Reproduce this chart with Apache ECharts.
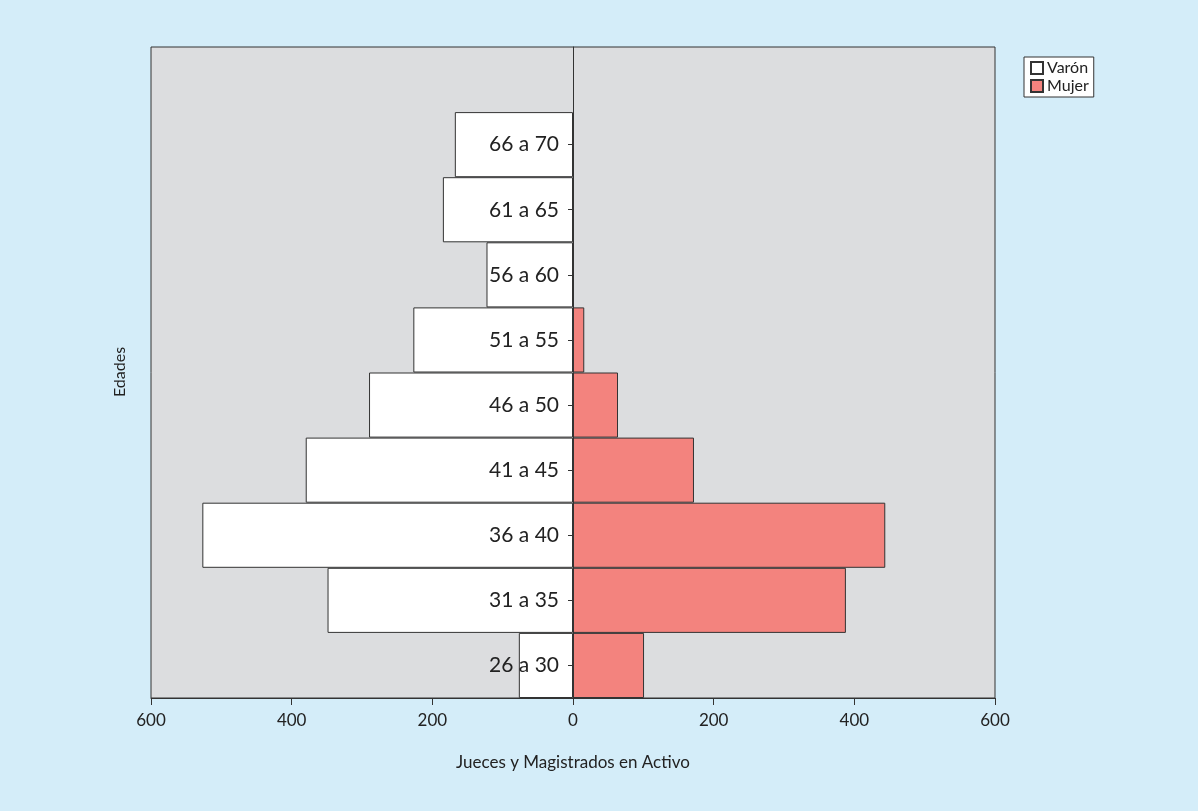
<!DOCTYPE html>
<html>
<head>
<meta charset="utf-8">
<script src="https://cdn.jsdelivr.net/npm/echarts@6/dist/echarts.min.js"></script>
<style>
html,body{margin:0;padding:0;background:#d4edf9;}
#chart{width:1198px;height:811px;}
</style>
</head>
<body>
<div id="chart"></div>
<script>
const categories = ['26 a 30','31 a 35','36 a 40','41 a 45','46 a 50','51 a 55','56 a 60','61 a 65','66 a 70',''];
const varon = [77, 349, 527, 380, 290, 227, 123, 185, 168, null];
const mujer = [101, 388, 444, 172, 64, 16, null, null, null, null];
const xTicks = [-600, -400, -200, 0, 200, 400, 600];

const FONT = 'Lato';
const GRID_LEFT = 151;
const chart = echarts.init(document.getElementById('chart'));
chart.setOption({
  backgroundColor: '#d4edf9',
  textStyle: {fontFamily: FONT},
  animation: false,
  legend: {
    orient: 'vertical',
    left: 1024, top: 57,
    backgroundColor: '#ffffff',
    borderColor: '#333',
    borderWidth: 1,
    padding: [3, 5, 3, 6],
    itemWidth: 12, itemHeight: 12, itemGap: 2,
    icon: 'rect',
    textStyle: {fontFamily: FONT, fontSize: 16, color: '#222', padding: [0,0,0,-1]},
    data: ['Varón', 'Mujer']
  },
  grid: {
    left: GRID_LEFT, right: 203, top: 47, bottom: 113,
    show: true, backgroundColor: '#dcdddf', borderColor: '#333', borderWidth: 1
  },
  xAxis: {
    type: 'value',
    min: xTicks[0], max: xTicks[xTicks.length - 1], interval: 200,
    splitLine: {show: false},
    axisLine: {show: true, lineStyle: {color: '#333'}},
    axisTick: {show: true, length: 7, lineStyle: {color: '#333'}},
    axisLabel: {fontFamily: FONT, fontSize: 17, color: '#222', margin: 14,
      formatter: v => String(Math.abs(v))},
    name: 'Jueces y Magistrados en Activo',
    nameLocation: 'middle', nameGap: 56,
    nameTextStyle: {fontFamily: FONT, fontSize: 17, color: '#222'}
  },
  yAxis: {
    type: 'category',
    data: categories,
    position: 'left',
    offset: 0,
    z: 10,
    axisLine: {show: true, onZero: false, lineStyle: {color: '#333'}},
    axisTick: {show: true, length: 5, alignWithLabel: true,
      interval: (i, v) => v !== '', lineStyle: {color: '#333'}},
    axisLabel: {fontFamily: FONT, fontSize: 21, color: '#222', margin: 14}
  },
  graphic: [{
    type: 'text', x: 120, y: 372,
    rotation: Math.PI / 2,
    style: {text: 'Edades', font: '16px ' + FONT, fill: '#222', align: 'center', verticalAlign: 'middle'}
  }],
  series: [
    {
      name: 'Varón', type: 'bar',
      data: varon.map(v => v == null ? null : -v),
      barWidth: '100%', barGap: '-100%', barCategoryGap: 0,
      itemStyle: {color: '#ffffff', borderColor: '#333', borderWidth: 1}
    },
    {
      name: 'Mujer', type: 'bar',
      data: mujer,
      barWidth: '100%', barGap: '-100%', barCategoryGap: 0,
      itemStyle: {color: '#f3837e', borderColor: '#333', borderWidth: 1}
    }
  ]
});
// move the category axis onto the zero line of the value axis
const zeroX = chart.convertToPixel({xAxisIndex: 0}, 0);
chart.setOption({yAxis: {offset: -(zeroX - GRID_LEFT)}});
</script>
</body>
</html>
